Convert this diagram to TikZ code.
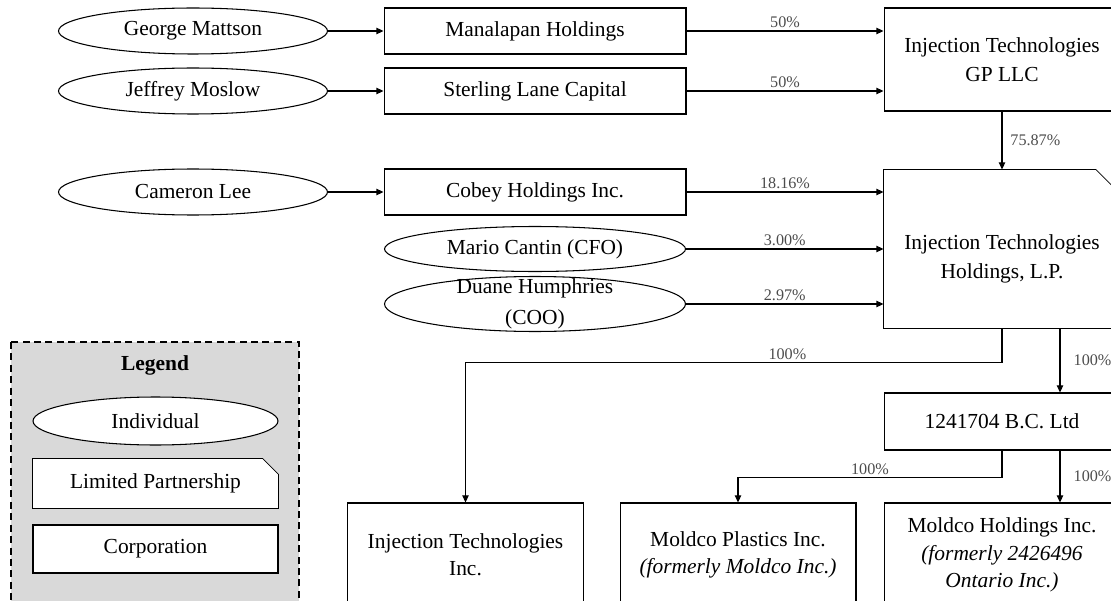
\documentclass[tikz,border=0pt]{standalone}
\usepackage{fontspec}
\setmainfont{Liberation Serif}
\usetikzlibrary{arrows.meta,shapes.geometric,calc,backgrounds}
\begin{document}
\begin{tikzpicture}[x=0.02cm,y=-0.02cm,line width=0.6pt,
  every node/.style={font=\fontsize{12.2}{15.5}\selectfont},
  person/.style={draw,ellipse,minimum width=5.38cm,minimum height=0.92cm,inner sep=0pt,align=center},
  holdco/.style={draw,minimum width=6.04cm,minimum height=0.92cm,inner sep=0pt,align=center},
  entity/.style={draw,minimum width=4.72cm,inner sep=0pt,align=center},
  lpbox/.style={minimum width=4.72cm,inner sep=0pt,align=center},
  pct/.style={font=\fontsize{9.2}{11}\selectfont,text=black!70,inner sep=1.5pt},
  own/.style={-{Triangle[length=4pt,width=3.6pt]}}]
\useasboundingbox (0,0) rectangle (1111,601);
\clip (0,0) rectangle (1111,601);
% owners
\node[person] (george) at (193,31) {George Mattson};
\node[person] (jeffrey) at (193,91) {Jeffrey Moslow};
\node[person] (cameron) at (193,192) {Cameron Lee};
\node[holdco] (mana) at (535,31) {Manalapan Holdings};
\node[holdco] (sterling) at (535,91) {Sterling Lane Capital};
\node[holdco] (cobey) at (535,192) {Cobey Holdings Inc.};
\node[person,minimum width=6.02cm,minimum height=0.9cm] (mario) at (535,249) {Mario Cantin (CFO)};
\node[person,minimum width=6.02cm,minimum height=1.1cm,inner ysep=-7pt] (duane) at (535,304) {Duane Humphries\\[2pt](COO)};
% right column
\node[entity,minimum height=2.06cm] (gp) at (1002,59.5) {Injection Technologies\\[1pt]GP LLC};
\node[lpbox,minimum height=3.16cm,label={[name=lptext,align=center,yshift=-5.5pt]center:Injection Technologies\\[1pt]Holdings, L.P.}] (lp) at (1002,249) {};
\node[entity,minimum height=1.14cm] (bc) at (1002,421.5) {1241704 B.C. Ltd};
% subsidiaries
\node[entity,minimum height=2.08cm] (iti) at (465.5,555) {Injection Technologies\\Inc.};
\node[entity,minimum height=2.08cm] (plastics) at (738,555) {Moldco Plastics Inc.\\\textit{(formerly Moldco Inc.)}};
\node[entity,minimum height=2.08cm] (mholdings) at (1002,555) {Moldco Holdings Inc.\\\textit{(formerly 2426496}\\\textit{Ontario Inc.)}};
% legend
\node[font=\bfseries\fontsize{12.2}{15.5}\selectfont] (legtitle) at (155,365) {Legend};
\node[person,fill=white,minimum width=4.9cm,minimum height=0.96cm] (indivkey) at (155.5,421) {Individual};
\node[lpbox,minimum width=4.9cm,minimum height=0.98cm] (lpkey) at (155.5,483.5) {Limited Partnership};
\node[entity,fill=white,minimum width=4.9cm,minimum height=0.96cm] (corpkey) at (155.5,549) {Corporation};
\begin{scope}[on background layer]
\draw[line width=0.9pt,dash pattern=on 4pt off 2.5pt,fill=black!15] (11,342) rectangle (299,640);
\draw[fill=white] (lpkey.north west) -- ([xshift=-9pt]lpkey.north east) -- ([yshift=-9pt]lpkey.north east) -- (lpkey.south east) -- (lpkey.south west) -- cycle;
\draw (lp.north west) -- ([xshift=-14pt]lp.north east) -- ([yshift=-14pt]lp.north east) -- (lp.south east) -- (lp.south west) -- cycle;
\end{scope}
% ownership links
\draw[own] (george) -- (mana);
\draw[own] (jeffrey) -- (sterling);
\draw[own] (cameron) -- (cobey);
\draw[own] (mana.east) -- (mana.east -| gp.west) node[pct,midway,above] (p1) {50\%};
\draw[own] (sterling.east) -- (sterling.east -| gp.west) node[pct,midway,above] (p2) {50\%};
\draw[own] (gp) -- (lp) node[pct,midway,right=3pt] (p3) {75.87\%};
\draw[own] (cobey.east) -- (cobey.east -| lp.west) node[pct,midway,above] (p4) {18.16\%};
\draw[own] (mario.east) -- (mario.east -| lp.west) node[pct,midway,above] (p5) {3.00\%};
\draw[own] (duane.east) -- (duane.east -| lp.west) node[pct,midway,above] (p6) {2.97\%};
\draw[own] (lp.south) -- ++(0,34) -| (iti.north) node[pct,pos=0.2,above] (p7) {100\%};
\coordinate (lptap) at ($(lp.south)+(58,0)$);
\draw[own] (lptap) -- (lptap |- bc.north) node[pct,midway,right=6pt] (p8) {100\%};
\draw[own] (bc.south) -- ++(0,27) -| (plastics.north) node[pct,pos=0.25,above] (p9) {100\%};
\coordinate (bctap) at ($(bc.south)+(58,0)$);
\draw[own] (bctap) -- (bctap |- mholdings.north) node[pct,midway,right=6pt] (p10) {100\%};
\end{tikzpicture}
\end{document}
